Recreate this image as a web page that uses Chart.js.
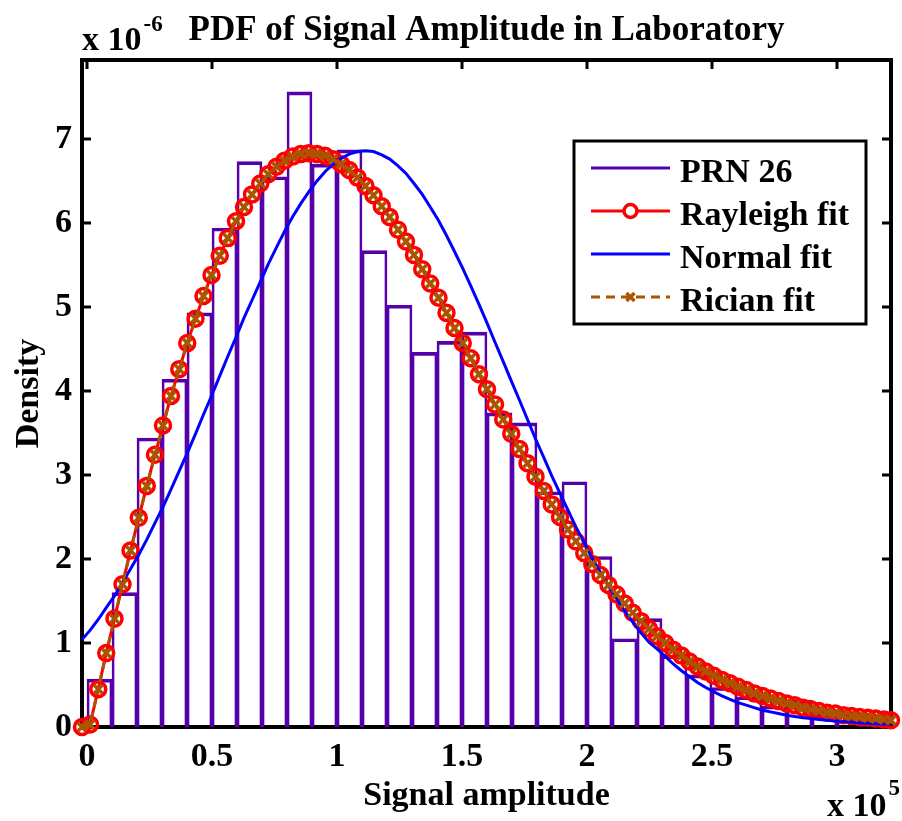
<!DOCTYPE html>
<html>
<head>
<meta charset="utf-8">
<title>PDF of Signal Amplitude in Laboratory</title>
<script src="https://cdn.jsdelivr.net/npm/chart.js@4.4.0/dist/chart.umd.min.js"></script>
<style>
  html, body { margin: 0; padding: 0; background: #fff; }
  #chart-id { display: block; }
</style>
</head>
<body>
<canvas id="chart-id" width="902" height="821"></canvas>
<script>
'use strict';

// amplitude (x 10^5) where the fitted curves were evaluated
var amplitude = [
  -0.020, 0.012, 0.045, 0.077, 0.110, 0.142, 0.174, 0.207, 0.239, 0.272,
  0.304, 0.336, 0.369, 0.401, 0.434, 0.466, 0.498, 0.531, 0.563, 0.596,
  0.628, 0.660, 0.693, 0.725, 0.758, 0.790, 0.822, 0.855, 0.887, 0.920,
  0.952, 0.984, 1.017, 1.049, 1.082, 1.114, 1.146, 1.179, 1.211, 1.244,
  1.276, 1.308, 1.341, 1.373, 1.406, 1.438, 1.470, 1.503, 1.535, 1.568,
  1.600, 1.632, 1.665, 1.697, 1.730, 1.762, 1.794, 1.827, 1.859, 1.892,
  1.924, 1.956, 1.989, 2.021, 2.054, 2.086, 2.118, 2.151, 2.183, 2.216,
  2.248, 2.280, 2.313, 2.345, 2.378, 2.410, 2.442, 2.475, 2.507, 2.540,
  2.572, 2.604, 2.637, 2.669, 2.702, 2.734, 2.766, 2.799, 2.831, 2.864,
  2.896, 2.928, 2.961, 2.993, 3.026, 3.058, 3.090, 3.123, 3.155, 3.188,
  3.216
];

// density values (x 10^-6)
var rayleighFit = [
  0.00, 0.03, 0.45, 0.88, 1.29, 1.70, 2.10, 2.49, 2.87, 3.24,
  3.59, 3.94, 4.26, 4.57, 4.86, 5.13, 5.38, 5.61, 5.82, 6.02,
  6.19, 6.34, 6.47, 6.58, 6.67, 6.74, 6.79, 6.82, 6.83, 6.82,
  6.80, 6.76, 6.70, 6.63, 6.54, 6.44, 6.33, 6.20, 6.07, 5.92,
  5.78, 5.62, 5.45, 5.28, 5.11, 4.93, 4.75, 4.57, 4.39, 4.20,
  4.02, 3.84, 3.66, 3.49, 3.31, 3.14, 2.98, 2.81, 2.65, 2.50,
  2.35, 2.21, 2.07, 1.94, 1.81, 1.69, 1.58, 1.47, 1.36, 1.26,
  1.17, 1.08, 1.00, 0.92, 0.85, 0.78, 0.72, 0.66, 0.61, 0.56,
  0.52, 0.48, 0.44, 0.40, 0.37, 0.34, 0.31, 0.28, 0.26, 0.23,
  0.21, 0.19, 0.17, 0.16, 0.14, 0.13, 0.12, 0.11, 0.10, 0.09,
  0.08
];

var normalFit = [
  1.04, 1.15, 1.28, 1.42, 1.56, 1.72, 1.88, 2.05, 2.23, 2.43,
  2.62, 2.83, 3.05, 3.26, 3.49, 3.72, 3.94, 4.18, 4.41, 4.64,
  4.87, 5.08, 5.30, 5.51, 5.71, 5.90, 6.07, 6.23, 6.37, 6.50,
  6.61, 6.70, 6.77, 6.82, 6.85, 6.86, 6.85, 6.81, 6.76, 6.68,
  6.59, 6.47, 6.34, 6.19, 6.03, 5.85, 5.66, 5.46, 5.25, 5.03,
  4.81, 4.58, 4.35, 4.12, 3.89, 3.66, 3.43, 3.21, 2.99, 2.78,
  2.58, 2.38, 2.19, 2.01, 1.84, 1.68, 1.53, 1.38, 1.25, 1.12,
  1.01, 0.93, 0.84, 0.75, 0.67, 0.60, 0.53, 0.47, 0.42, 0.37,
  0.33, 0.29, 0.26, 0.23, 0.20, 0.18, 0.16, 0.14, 0.125, 0.11,
  0.10, 0.09, 0.08, 0.07, 0.065, 0.06, 0.05, 0.045, 0.04, 0.035,
  0.03
];

var ricianFit = [
  0.00, 0.03, 0.45, 0.88, 1.29, 1.70, 2.10, 2.49, 2.87, 3.24,
  3.59, 3.94, 4.26, 4.57, 4.86, 5.13, 5.38, 5.61, 5.82, 6.02,
  6.19, 6.34, 6.47, 6.58, 6.67, 6.74, 6.79, 6.82, 6.83, 6.82,
  6.80, 6.76, 6.70, 6.63, 6.54, 6.44, 6.33, 6.20, 6.07, 5.92,
  5.78, 5.62, 5.45, 5.28, 5.11, 4.93, 4.75, 4.57, 4.39, 4.20,
  4.02, 3.84, 3.66, 3.49, 3.31, 3.14, 2.98, 2.81, 2.65, 2.50,
  2.35, 2.21, 2.07, 1.94, 1.81, 1.69, 1.58, 1.47, 1.36, 1.26,
  1.17, 1.08, 1.00, 0.92, 0.85, 0.78, 0.72, 0.66, 0.61, 0.56,
  0.52, 0.48, 0.44, 0.40, 0.37, 0.34, 0.31, 0.28, 0.26, 0.23,
  0.21, 0.19, 0.17, 0.16, 0.14, 0.13, 0.12, 0.11, 0.10, 0.09,
  0.08
];

// histogram of PRN 26: bin centres (x 10^5) and density (x 10^-6)
var binCenters = [
  0.05, 0.15, 0.25, 0.35, 0.45, 0.55, 0.65, 0.75, 0.85, 0.95,
  1.05, 1.15, 1.25, 1.35, 1.45, 1.55, 1.65, 1.75, 1.85, 1.95,
  2.05, 2.15, 2.25, 2.35, 2.45, 2.55, 2.65, 2.75, 2.85, 2.95,
  3.05, 3.15
];
var binDensity = [
  0.57, 1.60, 3.44, 4.14, 4.93, 5.94, 6.73, 6.55, 7.56, 6.70,
  6.87, 5.67, 5.02, 4.46, 4.59, 4.70, 3.74, 3.62, 2.80, 2.92,
  2.03, 1.05, 1.29, 0.85, 0.62, 0.47, 0.36, 0.25, 0.32, 0.15,
  0.08, 0.05
];

var seriesNames = ['PRN 26', 'Rayleigh fit', 'Normal fit', 'Rician fit'];

var purple = '#5500aa';
var red = '#ff0000';
var blue = '#0000ff';
var brown = '#aa5500';
var textFont = "'Liberation Serif', 'Times New Roman', serif";

Chart.defaults.font.family = textFont;
Chart.defaults.color = '#000';

function toPoints(values){
  return values.map(function(v, i){
    return {x: amplitude[i], y: v};
  });
}

// tick labels like matlab: 0, 0.5, 1, 1.5 ...
function plainTick(value){
  return String(Math.round(value * 10) / 10);
}

// matlab style box with inward ticks, exponent labels and the legend
var matlabAxes = {
  id: 'matlabAxes',
  beforeDatasetsDraw: function(chart){
    var ctx = chart.ctx;
    var area = chart.chartArea;
    var xs = chart.scales.x;
    var ys = chart.scales.y;
    ctx.save();
    ctx.strokeStyle = '#000';
    ctx.lineWidth = 3;
    ctx.beginPath();
    xs.ticks.forEach(function(t){
      var px = xs.getPixelForValue(t.value);
      ctx.moveTo(px, area.bottom);
      ctx.lineTo(px, area.bottom - 9);
      ctx.moveTo(px, area.top);
      ctx.lineTo(px, area.top + 9);
    });
    ys.ticks.forEach(function(t){
      var py = ys.getPixelForValue(t.value);
      ctx.moveTo(area.left, py);
      ctx.lineTo(area.left + 9, py);
      ctx.moveTo(area.right, py);
      ctx.lineTo(area.right - 9, py);
    });
    ctx.stroke();
    ctx.lineWidth = 4;
    ctx.strokeRect(area.left, area.top, area.right - area.left, area.bottom - area.top);
    ctx.restore();
  },
  afterDraw: function(chart){
    var ctx = chart.ctx;
    ctx.save();
    ctx.fillStyle = '#000';
    ctx.textBaseline = 'alphabetic';
    ctx.textAlign = 'left';

    // exponent of the y axis
    ctx.font = 'bold 34px ' + textFont;
    ctx.fillText('x 10', 82, 50);
    var w = ctx.measureText('x 10').width;
    ctx.font = 'bold 23px ' + textFont;
    ctx.fillText('-6', 82 + w + 2, 31);

    // exponent of the x axis
    ctx.font = 'bold 34px ' + textFont;
    ctx.fillText('x 10', 827, 816);
    w = ctx.measureText('x 10').width;
    ctx.font = 'bold 23px ' + textFont;
    ctx.fillText('5', 827 + w + 2, 795);

    // legend
    var boxLeft = 574, boxTop = 141, boxW = 292, boxH = 183;
    ctx.fillStyle = '#fff';
    ctx.fillRect(boxLeft, boxTop, boxW, boxH);
    ctx.strokeStyle = '#000';
    ctx.lineWidth = 3;
    ctx.strokeRect(boxLeft, boxTop, boxW, boxH);

    var lineStart = 591, lineEnd = 670;
    var mid = (lineStart + lineEnd) / 2;
    for(var i = 0; i < seriesNames.length; i++){
      var y = 168 + 43 * i;
      ctx.setLineDash([]);
      ctx.lineWidth = 3;
      if(i === 0){
        ctx.strokeStyle = purple;
      }else if(i === 1){
        ctx.strokeStyle = red;
      }else if(i === 2){
        ctx.strokeStyle = blue;
      }else{
        ctx.strokeStyle = brown;
        ctx.setLineDash([9, 6]);
      }
      ctx.beginPath();
      ctx.moveTo(lineStart, y);
      ctx.lineTo(lineEnd, y);
      ctx.stroke();
      ctx.setLineDash([]);
      if(i === 1){
        ctx.fillStyle = '#fff';
        ctx.beginPath();
        ctx.arc(mid, y, 6.5, 0, Math.PI * 2);
        ctx.fill();
        ctx.lineWidth = 3.5;
        ctx.stroke();
      }
      if(i === 3){
        ctx.lineWidth = 3.5;
        ctx.beginPath();
        ctx.moveTo(mid - 4, y - 4);
        ctx.lineTo(mid + 4, y + 4);
        ctx.moveTo(mid - 4, y + 4);
        ctx.lineTo(mid + 4, y - 4);
        ctx.stroke();
      }
      ctx.fillStyle = '#000';
      ctx.font = 'bold 34px ' + textFont;
      ctx.fillText(seriesNames[i], 680, y + 14);
    }
    ctx.restore();
  }
};

var ctx = document.getElementById('chart-id').getContext('2d');
var chart = new Chart(ctx, {
  type: 'bar',
  data: {
    datasets: [
      {
        type: 'line',
        label: seriesNames[3],
        data: toPoints(ricianFit),
        borderColor: brown,
        borderWidth: 3,
        borderDash: [8, 5],
        pointStyle: 'crossRot',
        pointRadius: 6,
        pointBorderWidth: 3.5,
        pointBorderColor: brown,
        pointBackgroundColor: brown,
        tension: 0,
        clip: false,
        order: 1
      },
      {
        type: 'line',
        label: seriesNames[2],
        data: toPoints(normalFit),
        borderColor: blue,
        borderWidth: 3,
        pointRadius: 0,
        tension: 0,
        clip: false,
        order: 2
      },
      {
        type: 'line',
        label: seriesNames[1],
        data: toPoints(rayleighFit),
        borderColor: red,
        borderWidth: 3,
        pointStyle: 'circle',
        pointRadius: 7.5,
        pointBorderWidth: 3.5,
        pointBorderColor: red,
        pointBackgroundColor: 'rgba(255,255,255,0)',
        tension: 0,
        clip: false,
        order: 3
      },
      {
        type: 'bar',
        label: seriesNames[0],
        data: binCenters.map(function(c, i){ return {x: c, y: binDensity[i]}; }),
        backgroundColor: 'rgba(255,255,255,0)',
        borderColor: purple,
        borderWidth: {top: 3, left: 2, right: 2, bottom: 0},
        barPercentage: 1,
        categoryPercentage: 1,
        order: 4
      }
    ]
  },
  options: {
    responsive: false,
    animation: false,
    events: [],
    layout: {padding: {top: 0, right: 9, bottom: 0, left: 0}},
    plugins: {
      legend: {display: false},
      tooltip: {enabled: false},
      title: {
        display: true,
        text: 'PDF of Signal Amplitude in Laboratory',
        fullSize: false,
        color: '#000',
        font: {size: 35, weight: 'bold'},
        padding: {top: 10, bottom: 8}
      }
    },
    scales: {
      x: {
        type: 'linear',
        min: -0.02,
        max: 3.216,
        offset: false,
        grid: {display: false, drawTicks: false},
        border: {display: false},
        ticks: {
          stepSize: 0.5,
          includeBounds: false,
          autoSkip: false,
          maxRotation: 0,
          padding: 10,
          color: '#000',
          font: {size: 34, weight: 'bold'},
          callback: plainTick
        },
        title: {
          display: true,
          text: 'Signal amplitude',
          color: '#000',
          font: {size: 34, weight: 'bold'},
          padding: {top: 0, bottom: 4}
        },
        afterFit: function(scale){ scale.height = 94; }
      },
      y: {
        type: 'linear',
        min: 0,
        max: 7.94,
        grid: {display: false, drawTicks: false},
        border: {display: false},
        ticks: {
          stepSize: 1,
          includeBounds: false,
          padding: 10,
          color: '#000',
          font: {size: 34, weight: 'bold'},
          callback: plainTick
        },
        title: {
          display: true,
          text: 'Density',
          color: '#000',
          font: {size: 34, weight: 'bold'},
          padding: {top: 9, bottom: 0}
        },
        afterFit: function(scale){ scale.width = 82; }
      }
    }
  },
  plugins: [matlabAxes]
});
</script>
</body>
</html>
